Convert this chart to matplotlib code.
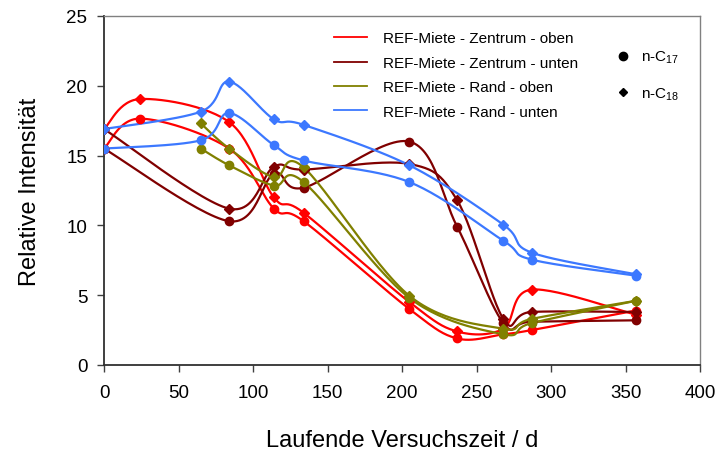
"""Relative Intensität von n-C17 / n-C18 über die Versuchszeit"""

import numpy as np
import matplotlib
matplotlib.use("Agg")
import matplotlib.pyplot as plt
from matplotlib.lines import Line2D

plt.rcParams['font.family'] = ['Liberation Sans', 'DejaVu Sans']
plt.rcParams['mathtext.default'] = 'regular'

# Zentrum - oben
red_days = [0, 24, 84, 114, 134, 205, 237, 268, 287, 357]
red_c17 = [15.5, 17.65, 15.5, 11.2, 10.3, 4.0, 1.9, 2.2, 2.5, 3.9]
red_c18 = [16.9, 19.05, 17.4, 12.0, 10.9, 4.5, 2.4, 2.6, 5.4, 3.6]

# Zentrum - unten
dred_days = [0, 84, 114, 134, 205, 237, 268, 287, 357]
dred_c17 = [15.5, 10.3, 13.7, 12.7, 16.0, 9.9, 3.0, 3.1, 3.2]
dred_c18 = [16.9, 11.2, 14.2, 14.0, 14.4, 11.8, 3.3, 3.8, 3.8]

# Rand - oben
olive_days = [65, 84, 114, 134, 205, 268, 287, 357]
olive_c17 = [15.5, 14.3, 12.85, 13.1, 4.8, 2.2, 3.0, 4.6]
olive_c18 = [17.3, 15.5, 13.45, 14.15, 4.95, 2.6, 3.3, 4.6]

# Rand - unten
blue_days = [0, 65, 84, 114, 134, 205, 268, 287, 357]
blue_c17 = [15.5, 16.1, 18.05, 15.75, 14.65, 13.1, 8.9, 7.55, 6.4]
blue_c18 = [16.9, 18.15, 20.3, 17.6, 17.2, 14.3, 10.05, 8.05, 6.5]

series_names = ["REF-Miete - Zentrum - oben", "REF-Miete - Zentrum - unten",
                "REF-Miete - Rand - oben", "REF-Miete - Rand - unten"]
series_colors = ["#FF0000", "#800000", "#808000", "#3C78FF"]


def smooth(x, y, n=30):
    """Excel-like smoothed line (Bezier through the points)"""
    p = np.column_stack([x, y]).astype(float)
    if len(p) < 3:
        return p[:, 0], p[:, 1]
    out = []
    t = np.linspace(0, 1, n)[:, None]
    for i in range(len(p) - 1):
        p0 = p[max(i - 1, 0)]
        p1 = p[i]
        p2 = p[i + 1]
        p3 = p[min(i + 2, len(p) - 1)]
        c1 = p1 + (p2 - p0) / 6
        c2 = p2 - (p3 - p1) / 6
        seg = ((1 - t) ** 3 * p1 + 3 * (1 - t) ** 2 * t * c1
               + 3 * (1 - t) * t ** 2 * c2 + t ** 3 * p2)
        out.append(seg if i == 0 else seg[1:])
    out = np.vstack(out)
    return out[:, 0], out[:, 1]


fig = plt.figure(figsize=(7.16, 4.52), dpi=100)
ax = fig.add_axes([0.1453, 0.1903, 0.8324, 0.7721])

data = [
    (red_days, red_c17, red_c18),
    (dred_days, dred_c17, dred_c18),
    (olive_days, olive_c17, olive_c18),
    (blue_days, blue_c17, blue_c18),
]

for (days, c17, c18), color in zip(data, series_colors):
    for vals, marker, ms in [(c17, 'o', 6), (c18, 'D', 5)]:
        sx, sy = smooth(days, vals)
        ax.plot(sx, sy, color=color, linewidth=1.6, zorder=2)
        ax.plot(days, vals, linestyle='None', marker=marker, markersize=ms,
                color=color, zorder=3)

ax.set_xlim(0, 400)
ax.set_ylim(0, 25)
ax.set_xticks(range(0, 401, 50))
ax.set_yticks(range(0, 26, 5))
ax.tick_params(direction='out', length=5, width=1, labelsize=13.5,
               color='#404040')
ax.tick_params(axis='x', pad=9)
ax.tick_params(axis='y', pad=7)
ax.tick_params(top=False, right=False)

for side in ['left', 'bottom']:
    ax.spines[side].set_color('#303030')
    ax.spines[side].set_linewidth(1.3)
for side in ['top', 'right']:
    ax.spines[side].set_color('#808080')
    ax.spines[side].set_linewidth(1.0)

ax.set_xlabel("Laufende Versuchszeit / d", fontsize=17, labelpad=20)
ax.set_ylabel("Relative Intensität", fontsize=17, labelpad=18)

# Legends: series colors and marker meaning
line_handles = [Line2D([], [], color=c, linewidth=1.3) for c in series_colors]
leg1 = ax.legend(line_handles, series_names, loc='upper left',
                 bbox_to_anchor=(0.362, 0.995), frameon=False, fontsize=11,
                 handlelength=2.2, handletextpad=1.05, labelspacing=0.68)
ax.add_artist(leg1)

marker_handles = [Line2D([], [], color='black', marker='o', linestyle='None', markersize=6),
                  Line2D([], [], color='black', marker='D', linestyle='None', markersize=4.5)]
ax.legend(marker_handles, ["n-C$_{17}$", "n-C$_{18}$"], loc='upper left',
          bbox_to_anchor=(0.822, 0.945), frameon=False, fontsize=11,
          handletextpad=0.2, labelspacing=1.3)

fig.savefig("out.png", dpi=100)
